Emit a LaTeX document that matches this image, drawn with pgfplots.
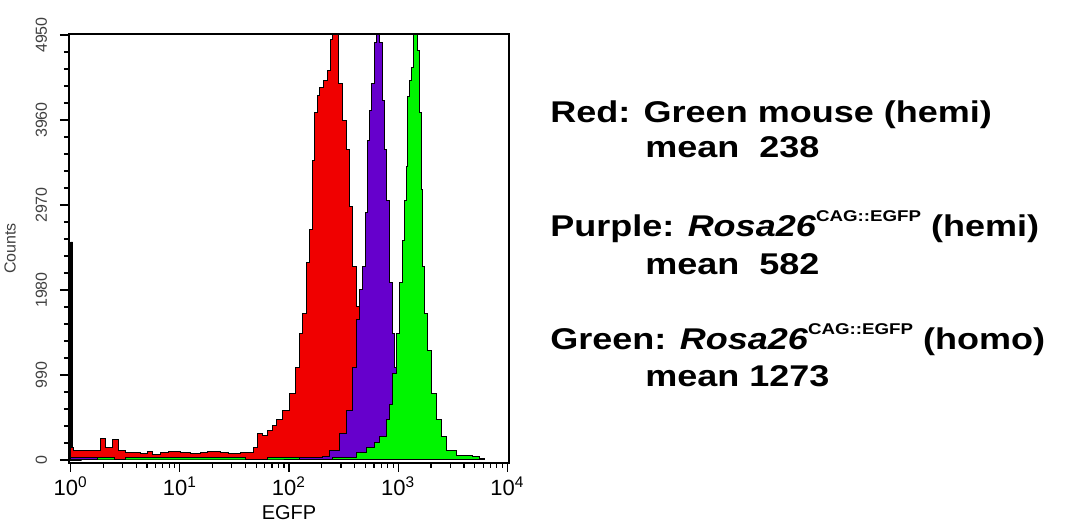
\documentclass[border=0pt]{standalone}
\usepackage{fontspec}
\setmainfont{Liberation Sans}
\usepackage{pgfplots}
\pgfplotsset{compat=1.18}
\definecolor{hred}{RGB}{240,0,0}
\definecolor{hpurple}{RGB}{102,0,204}
\definecolor{hgreen}{RGB}{0,245,0}

\begin{document}
\begin{tikzpicture}
\useasboundingbox (-34.5pt,-32.5pt) rectangle (498pt,231.5pt);
\begin{axis}[
  at={(0,0)}, anchor=south west,
  scale only axis, width=220pt, height=214.5pt,
  xmin=-0.015, xmax=4.015, ymin=-35, ymax=4962,
  xtick={0,1,2,3,4},
  xticklabels={10\textsuperscript{0},10\textsuperscript{1},10\textsuperscript{2},10\textsuperscript{3},10\textsuperscript{4}},
  minor xtick={0.301,0.477,0.602,0.699,0.778,0.845,0.903,0.954,
    1.301,1.477,1.602,1.699,1.778,1.845,1.903,1.954,
    2.301,2.477,2.602,2.699,2.778,2.845,2.903,2.954,
    3.301,3.477,3.602,3.699,3.778,3.845,3.903,3.954},
  ytick={0,990,1980,2970,3960,4950},
  yticklabels={0,990,1980,2970,3960,4950},
  minor y tick num=4,
  tick align=outside, xtick pos=bottom, ytick pos=left,
  major tick length=4.5pt, minor tick length=2.5pt,
  tick style={black, line width=0.6pt},
  axis line style={line width=0.6pt},
  xticklabel style={font=\fontsize{11}{11}\selectfont, yshift=1pt},
  yticklabel style={rotate=90, anchor=south, font=\fontsize{8}{8}\selectfont, text=black!75, yshift=3pt},
  xlabel={EGFP}, xlabel style={font=\fontsize{10}{10}\selectfont, yshift=2pt},
  ylabel={Counts}, ylabel style={font=\fontsize{8}{8}\selectfont, text=black!75, yshift=3pt},
  axis on top,
]
\addplot[const plot, fill=black, draw=black] coordinates {
  (0,2540) (0.018,40) (0.05,0) (0.1,0)} \closedcycle;
\addplot[const plot, fill=hred, draw=black, line width=0.5pt] coordinates {
  (0,140) (0.027,116) (0.183,116) (0.274,256) (0.32,140) (0.384,233) (0.438,116)
  (0.502,82) (0.639,70) (0.70,100) (0.75,60) (0.822,82) (0.9,95) (1.005,93)
  (1.1,70) (1.187,82) (1.25,100) (1.370,93) (1.45,70) (1.553,82) (1.616,93)
  (1.671,151) (1.708,314) (1.753,280) (1.799,349) (1.845,396) (1.890,466)
  (1.945,582) (2.009,780) (2.055,1083) (2.100,1479) (2.128,1712) (2.164,2295)
  (2.192,2679) (2.219,3494) (2.237,4042) (2.265,4251) (2.283,4344) (2.320,4426)
  (2.356,4542) (2.384,4892) (2.402,5125) (2.429,5008) (2.457,4391) (2.493,3960)
  (2.530,3611) (2.557,2947) (2.584,2248) (2.621,1782) (2.648,1281) (2.694,699)
  (2.758,233) (2.831,58) (2.922,23) (3.014,0)} \closedcycle;
\addplot[const plot, fill=hpurple, draw=black, line width=0.5pt] coordinates {
  (0,30) (0.3,0) (1.4,25) (1.6,0) (2.0,25) (2.311,35) (2.374,116) (2.466,314)
  (2.530,582) (2.584,1083) (2.621,1631) (2.648,1980) (2.676,2248) (2.703,2877)
  (2.721,3727) (2.740,4076) (2.758,4391) (2.785,4857) (2.804,5125) (2.831,4857)
  (2.858,4193) (2.877,3611) (2.895,3028) (2.922,2062) (2.950,1479) (2.968,1083)
  (2.995,699) (3.032,349) (3.087,116) (3.151,35) (3.242,0)} \closedcycle;
\addplot[const plot, fill=hgreen, draw=black, line width=0.5pt] coordinates {
  (0,0) (0.25,30) (0.4,0) (0.5,30) (1.0,25) (1.2,30) (1.6,0) (1.8,30) (2.1,0)
  (2.4,30) (2.621,82) (2.712,151) (2.785,198) (2.831,268) (2.895,466) (2.922,641)
  (2.950,1013) (2.986,1479) (3.014,2062) (3.041,2562) (3.059,3028) (3.078,3413)
  (3.087,4228) (3.105,4426) (3.123,4577) (3.142,5008) (3.160,5125) (3.178,4775)
  (3.196,4042) (3.215,3145) (3.224,2248) (3.242,1712) (3.269,1281) (3.306,780)
  (3.352,466) (3.397,268) (3.443,116) (3.534,58) (3.680,35) (3.744,23) (3.79,0)} \closedcycle;
\end{axis}
% legend text to the right of the histogram
\begin{scope}[every node/.style={anchor=base west, inner sep=0pt, font=\fontsize{15}{15}\selectfont\bfseries}]
\node at (240.5pt,170pt) {\scalebox{1.2}[1]{Red: Green mouse (hemi)}};
\node at (288pt,152.5pt) {\scalebox{1.2}[1]{mean\ \ 238}};
\node at (240.5pt,113pt) {\scalebox{1.2}[1]{Purple: \textit{Rosa26}\raisebox{7.5pt}{\fontsize{7.8}{9}\selectfont CAG::EGFP} (hemi)}};
\node at (288pt,94pt) {\scalebox{1.2}[1]{mean\ \ 582}};
\node at (240.5pt,56.5pt) {\scalebox{1.2}[1]{Green: \textit{Rosa26}\raisebox{7.5pt}{\fontsize{7.8}{9}\selectfont CAG::EGFP} (homo)}};
\node at (288pt,38pt) {\scalebox{1.2}[1]{mean 1273}};
\end{scope}
\end{tikzpicture}
\end{document}
